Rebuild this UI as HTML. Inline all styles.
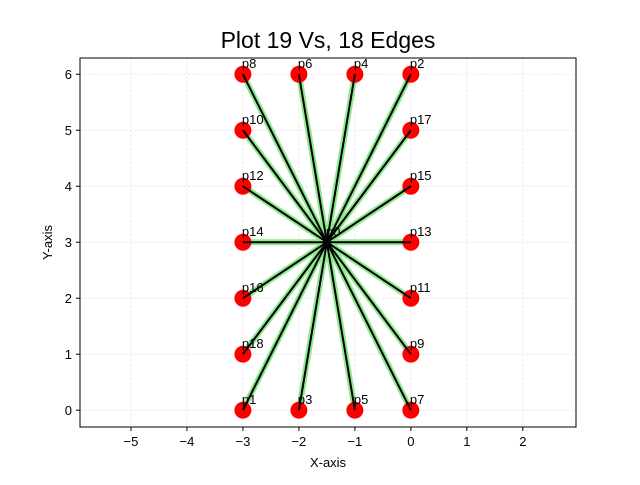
<!DOCTYPE html>
<html><head><meta charset="utf-8"><style>body{margin:0;background:#fff}svg{font-family:"Liberation Sans","DejaVu Sans",sans-serif}</style></head><body>
<svg id="c" width="640" height="480"></svg>
<script>
const nodeNames=["p0","p1","p2","p3","p4","p5","p6","p7","p8","p9","p10","p11","p12","p13","p14","p15","p16","p17","p18"];
const nodeX=[-1.5,-3,0,-2,-1,-1,-2,0,-3,0,-3,0,-3,0,-3,0,-3,0,-3];
const nodeY=[3,0,6,0,6,0,6,0,6,1,5,2,4,3,3,4,2,5,1];
const edgeFrom=[0,0,0,0,0,0,0,0,0,0,0,0,0,0,0,0,0,0];
const edgeTo=[1,2,3,4,5,6,7,8,9,10,11,12,13,14,15,16,17,18];
const xTicks=[-5,-4,-3,-2,-1,0,1,2];
const yTicks=[0,1,2,3,4,5,6];
const L=80,R=576,T=58,B=427,xmin=-5.91,xmax=2.95,ymin=-0.3,ymax=6.29;
const sx=v=>L+(v-xmin)/(xmax-xmin)*(R-L), sy=v=>B-(v-ymin)/(ymax-ymin)*(B-T);
const svg=document.getElementById('c');const NS="http://www.w3.org/2000/svg";
function mk(t,a,p){const e=document.createElementNS(NS,t);for(const k in a)e.setAttribute(k,a[k]);(p||svg).appendChild(e);return e;}
xTicks.forEach(v=>{const x=sx(v);
const g=mk('line',{x1:x,x2:x,y1:T,y2:B,stroke:'#ddd','stroke-width':0.6,'stroke-dasharray':'2.5,2'});

mk('line',{x1:x,x2:x,y1:B,y2:B+4,stroke:'#000'});
const t=mk('text',{x:x,y:B+19,'text-anchor':'middle','font-size':13});t.textContent=(v<0?'−'+(-v):v);
});
yTicks.forEach(v=>{const y=sy(v);
const g=mk('line',{x1:L,x2:R,y1:y,y2:y,stroke:'#ddd','stroke-width':0.6,'stroke-dasharray':'2.5,2'});

mk('line',{x1:L-4,x2:L,y1:y,y2:y,stroke:'#000'});
const t=mk('text',{x:L-8,y:y+5,'text-anchor':'end','font-size':13});t.textContent=v;
});
edgeFrom.forEach((f,i)=>{const t=edgeTo[i];
const a=mk('line',{x1:sx(nodeX[f]),y1:sy(nodeY[f]),x2:sx(nodeX[t]),y2:sy(nodeY[t]),stroke:'#90e890','stroke-width':6});
});
nodeNames.forEach((n,i)=>{if(i===0)return;
const c=mk('circle',{cx:sx(nodeX[i]),cy:sy(nodeY[i]),r:8.5,fill:'#ff0000'});
});
edgeFrom.forEach((f,i)=>{const t=edgeTo[i];
const a=mk('line',{x1:sx(nodeX[f]),y1:sy(nodeY[f]),x2:sx(nodeX[t]),y2:sy(nodeY[t]),stroke:'#000','stroke-width':2});
});
const c0=mk('circle',{cx:sx(nodeX[0]),cy:sy(nodeY[0]),r:4,fill:'#000'});

nodeNames.forEach((n,i)=>{const t=mk('text',{x:sx(nodeX[i])-1,y:sy(nodeY[i])-6,'font-size':13});t.textContent=n;
});
const fr=mk('rect',{x:L,y:T,width:R-L,height:B-T,fill:'none',stroke:'#000','stroke-width':1});

const ti=mk('text',{x:(L+R)/2,y:48,'text-anchor':'middle','font-size':23});ti.textContent='Plot 19 Vs, 18 Edges';

const xl=mk('text',{x:(L+R)/2,y:467,'text-anchor':'middle','font-size':13});xl.textContent='X-axis';

const yl=mk('text',{x:52,y:(T+B)/2,'text-anchor':'middle','font-size':13,transform:`rotate(-90 52 ${(T+B)/2})`});yl.textContent='Y-axis';

</script></body></html>
